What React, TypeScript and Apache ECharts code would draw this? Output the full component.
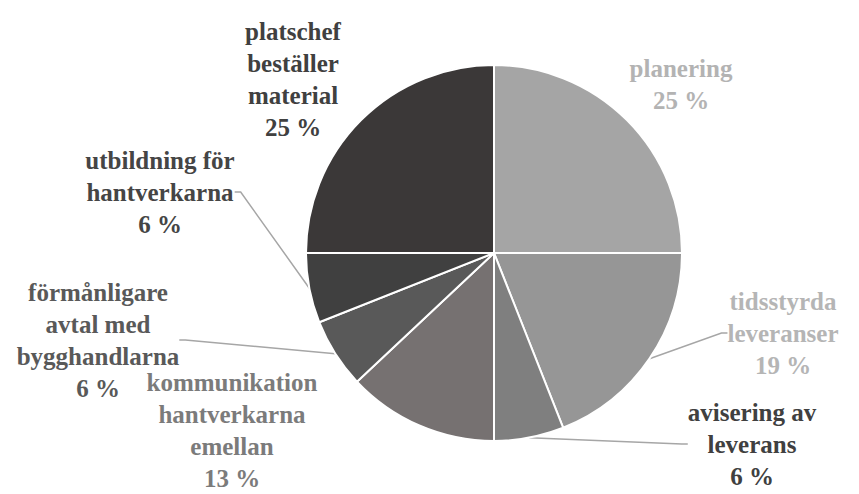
import React, { useEffect, useRef } from "react";
import * as echarts from "echarts";

const categories = [
  "planering",
  "tidsstyrda\nleveranser",
  "avisering av\nleverans",
  "kommunikation\nhantverkarna\nemellan",
  "förmånligare\navtal med\nbygghandlarna",
  "utbildning för\nhantverkarna",
  "platschef\nbeställer\nmaterial",
];
const values = [25, 19, 6, 13, 6, 6, 25];

const sliceColors = ["#a5a5a5", "#969696", "#7f7f7f", "#767171", "#595959", "#404040", "#3b3838"];
const labelColors = ["#b3b3b3", "#b5b5b5", "#404040", "#7b7b7b", "#595959", "#454545", "#404040"];
const showLeader = [false, true, true, false, true, true, false];
// label block centres (layout only)
const labelPos: [number, number][] = [
  [681, 84],
  [783, 333],
  [752, 444],
  [232, 430],
  [98, 340],
  [160, 192],
  [293, 79],
];

const FONT = "Liberation Serif";

export default function App() {
  const ref = useRef<HTMLDivElement>(null);
  useEffect(() => {
    if (!ref.current) return;
    const chart = echarts.init(ref.current, undefined, { renderer: "svg" });
    chart.setOption({
      animation: false,
      backgroundColor: "#ffffff",
      series: [
        {
          type: "pie",
          center: [494, 253],
          radius: 188,
          startAngle: 90,
          clockwise: true,
          avoidLabelOverlap: false,
          itemStyle: { borderColor: "#ffffff", borderWidth: 2 },
          label: {
            show: true,
            fontFamily: FONT,
            fontWeight: "bold",
            fontSize: 25,
            lineHeight: 32,
            align: "center",
            formatter: "{b}\n{c} %",
          },
          labelLine: {
            show: true,
            length: 10,
            length2: 6,
            smooth: false,
            lineStyle: { color: "#a6a6a6", width: 1.5 },
          },
          labelLayout: (params: any) => {
            const [x, y] = labelPos[params.dataIndex];
            return { x, y, align: "center", verticalAlign: "middle" };
          },
          data: categories.map((name, i) => ({
            name,
            value: values[i],
            itemStyle: { color: sliceColors[i] },
            label: { color: labelColors[i], fontFamily: FONT },
            labelLine: { show: showLeader[i] },
          })),
        },
      ],
    });
    return () => chart.dispose();
  }, []);
  return (
    <>
      <style>{`#pie-chart text { font-family: "Liberation Serif", "Times New Roman", serif !important; }`}</style>
      <div
        id="pie-chart"
        ref={ref}
        style={{ position: "fixed", left: 0, top: 0, width: 859, height: 494 }}
      />
    </>
  );
}
